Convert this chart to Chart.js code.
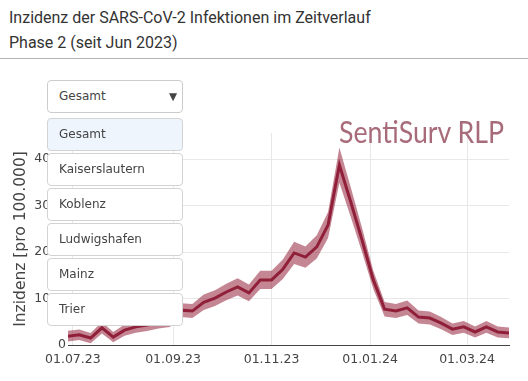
<!DOCTYPE html>
<html lang="de">
<head>
<meta charset="utf-8">
<title>SentiSurv RLP - Inzidenz</title>
<script src="https://cdn.jsdelivr.net/npm/chart.js@4.4.1/dist/chart.umd.min.js"></script>
<style>
  body { margin: 0; background: #fff; width: 528px; height: 381px; overflow: hidden; position: relative; }
  .titel { position: absolute; left: 9px; font: 16px/16px Roboto, sans-serif; color: #333; white-space: nowrap; }
  .trenner { position: absolute; left: 0; top: 58px; width: 528px; height: 1px; background: #b5b5b5; }
  .grafik { position: absolute; left: 0; top: 60px; width: 528px; height: 321px; }
  .logo { position: absolute; left: 339px; top: 116px; font: 30px/30px Lato, sans-serif; color: #a86b7a; white-space: nowrap; transform-origin: left top; }
  .auswahl { position: absolute; left: 47px; top: 80px; width: 136px; height: 33px; box-sizing: border-box;
             border: 1px solid #ccc; border-radius: 4px; background: #fff; font: 12px/31px "DejaVu Sans", sans-serif;
             color: #444; padding-left: 11px; }
  .pfeil { position: absolute; left: 121px; top: 0; font-size: 10.5px; color: #444; }
  .option { position: absolute; left: 47px; width: 136px; height: 33px; box-sizing: border-box;
            border: 1px solid #d3d3d3; border-radius: 4px; background: #fff; font: 12px/31px "DejaVu Sans", sans-serif;
            color: #444; padding-left: 11px; }
  .option.aktiv { background: #eef5fc; }
</style>
</head>
<body>
<div class="titel" style="top:10px">Inzidenz der SARS-CoV-2 Infektionen im Zeitverlauf</div>
<div class="titel" style="top:35px">Phase 2 (seit Jun 2023)</div>
<div class="trenner"></div>
<div class="grafik"><canvas id="grafikInzidenz" width="528" height="321"></canvas></div>
<div class="logo" id="logo">SentiSurv RLP</div>
<div class="auswahl">Gesamt<span class="pfeil">▼</span></div>
<div id="optionen"></div>
<script>
// Wochenwerte (Mittwoch), Inzidenz pro 100.000
const datum = [
  '2023-06-28', '2023-07-05', '2023-07-12', '2023-07-19', '2023-07-26',
  '2023-08-02', '2023-08-09', '2023-08-16', '2023-08-23', '2023-08-30',
  '2023-09-06', '2023-09-13', '2023-09-20', '2023-09-27', '2023-10-04',
  '2023-10-11', '2023-10-18', '2023-10-25', '2023-11-01', '2023-11-08',
  '2023-11-15', '2023-11-22', '2023-11-29', '2023-12-06', '2023-12-13',
  '2023-12-20', '2023-12-27', '2024-01-03', '2024-01-10', '2024-01-17',
  '2024-01-24', '2024-01-31', '2024-02-07', '2024-02-14', '2024-02-21',
  '2024-02-28', '2024-03-06', '2024-03-13', '2024-03-20', '2024-03-27'
];
const inzidenz = [
  190, 220, 150, 370, 170, 320, 390, 430, 490, 520,
  750, 730, 920, 1010, 1140, 1250, 1120, 1400, 1400, 1630,
  1980, 1890, 2110, 2580, 3870, 3080, 2260, 1400, 770, 730,
  800, 600, 580, 470, 340, 390, 280, 390, 280, 260
];
const untereGrenze = [
  75, 105, 40, 245, 60, 200, 265, 300, 355, 385,
  600, 580, 755, 840, 960, 1065, 940, 1205, 1205, 1420,
  1740, 1660, 1860, 2300, 3490, 2760, 2000, 1205, 615, 580,
  645, 460, 440, 340, 215, 265, 160, 265, 160, 145
];
const obereGrenze = [
  305, 335, 260, 495, 280, 440, 515, 560, 625, 655,
  900, 880, 1085, 1180, 1320, 1435, 1300, 1595, 1595, 1840,
  2220, 2120, 2360, 2860, 4250, 3400, 2520, 1595, 925, 880,
  955, 740, 720, 600, 465, 515, 400, 515, 400, 375
];
const tickDatum = ['2023-07-01', '2023-09-01', '2023-11-01', '2024-01-01', '2024-03-01'];
const tickBeschriftung = ['01.07.23', '01.09.23', '01.11.23', '01.01.24', '01.03.24'];
const yTicks = [0, 1000, 2000, 3000, 4000];
const regionen = ['Gesamt', 'Kaiserslautern', 'Koblenz', 'Ludwigshafen', 'Mainz', 'Trier'];

// Dropdown-Liste
const liste = document.getElementById('optionen');
regionen.forEach(function(name, i) {
  const el = document.createElement('div');
  el.className = 'option' + (i === 0 ? ' aktiv' : '');
  el.style.top = (118 + i * 35) + 'px';
  el.textContent = name;
  liste.appendChild(el);
});

// Logo-Schrift auf Breite bringen
const logo = document.getElementById('logo');
logo.style.transform = 'scaleX(' + (165 / logo.offsetWidth) + ')';

function tag(d) { return Date.parse(d + 'T00:00:00Z') / 86400000; }
function punkte(werte) { return werte.map(function(w, i) { return { x: tag(datum[i]), y: w }; }); }

const tickFont = { family: 'DejaVu Sans', size: 12.5 };
const band = 'rgba(150, 35, 60, 0.55)';

new Chart(document.getElementById('grafikInzidenz').getContext('2d'), {
  type: 'line',
  data: {
    datasets: [
      { data: punkte(untereGrenze), borderWidth: 0, backgroundColor: band, fill: false },
      { data: punkte(obereGrenze), borderWidth: 0, backgroundColor: band, fill: '-1' },
      { data: punkte(inzidenz), borderColor: '#8a1c38', borderWidth: 3, fill: false }
    ]
  },
  options: {
    responsive: false,
    animation: false,
    layout: { padding: { top: 73, right: 19, left: 0, bottom: 0 } },
    plugins: { legend: { display: false }, tooltip: { enabled: false } },
    elements: { point: { radius: 0 }, line: { tension: 0 } },
    scales: {
      x: {
        type: 'linear',
        min: tag(datum[0]),
        max: tag(datum[datum.length - 1]),
        afterFit: function(s) { s.height = 36; },
        afterBuildTicks: function(s) { s.ticks = tickDatum.map(function(d) { return { value: tag(d) }; }); },
        ticks: {
          autoSkip: false, maxRotation: 0, padding: 7, color: '#444', font: tickFont,
          callback: function(v, i) { return tickBeschriftung[i]; }
        },
        grid: { color: '#e8e8e8', drawTicks: false },
        border: { color: '#444', width: 1 }
      },
      y: {
        min: 0,
        max: 4560,
        afterFit: function(s) { s.width = 68; },
        afterBuildTicks: function(s) { s.ticks = yTicks.map(function(v) { return { value: v }; }); },
        ticks: {
          padding: 2, color: '#444', font: tickFont,
          callback: function(v) { return String(v); }
        },
        grid: { color: '#e8e8e8', drawTicks: false },
        border: { display: false },
        title: {
          display: true, text: 'Inzidenz [pro 100.000]', color: '#444',
          font: { family: 'DejaVu Sans', size: 15.5 }, padding: { top: 12, bottom: 0 }
        }
      }
    }
  }
});
</script>
</body>
</html>
